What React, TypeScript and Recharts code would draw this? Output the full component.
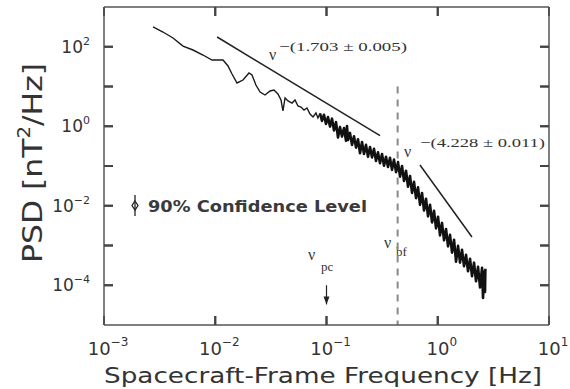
import React from "react";
import { LineChart, Line, XAxis, YAxis } from "recharts";

// spectrum: [frequency Hz, PSD nT^2/Hz]
const spectrumLow: [number, number][] = [
  [0.00276, 314], [0.00339, 235], [0.00417, 166], [0.00513, 104], [0.00631, 82.8],
  [0.00776, 62.0], [0.00935, 46.4], [0.01174, 46.4], [0.01302, 32.8], [0.01415, 20.6],
  [0.01569, 12.25], [0.01776, 14.57], [0.0201, 21.9], [0.0214, 19.5], [0.0232, 10.9],
  [0.0253, 7.27], [0.028, 6.11], [0.0311, 7.7], [0.0337, 8.16], [0.0366, 6.48],
  [0.039, 4.57], [0.0406, 2.42], [0.0424, 5.14], [0.0451, 4.32], [0.049, 3.84],
  [0.0521, 4.57], [0.0554, 3.23], [0.059, 3.05], [0.0628, 2.56], [0.0668, 2.88],
  [0.0711, 2.03], [0.0756, 1.71], [0.0804, 2.15], [0.0838, 1.61], [0.0874, 2.1],
];

// the noisy part, drawn as a thick band
const spectrumHigh: [number, number][] = [
  [0.0874, 2.1], [0.0911, 1.36], [0.0949, 1.95], [0.099, 1.14], [0.1031, 1.71],
  [0.1075, 0.98], [0.1121, 1.55], [0.1168, 0.78], [0.1217, 1.28], [0.1269, 0.52],
  [0.1322, 0.95], [0.1378, 0.55], [0.1436, 0.9], [0.1497, 0.43], [0.1528, 1.015],
  [0.156, 0.45], [0.1626, 0.68], [0.1695, 0.34], [0.1767, 0.56], [0.1842, 0.29],
  [0.1919, 0.47], [0.2001, 0.21], [0.2085, 0.4], [0.2173, 0.2], [0.2265, 0.34],
  [0.2361, 0.17], [0.2461, 0.3], [0.2565, 0.165], [0.2673, 0.27], [0.2786, 0.134],
  [0.2904, 0.22], [0.3027, 0.118], [0.3155, 0.2], [0.3288, 0.102], [0.3427, 0.17],
  [0.3572, 0.095], [0.3723, 0.16], [0.388, 0.08], [0.4044, 0.145], [0.4215, 0.07],
  [0.4394, 0.125], [0.4579, 0.054], [0.4773, 0.1], [0.4975, 0.042], [0.5185, 0.076],
  [0.5404, 0.03], [0.5633, 0.056], [0.5871, 0.021], [0.6119, 0.04], [0.6378, 0.0155],
  [0.6647, 0.029], [0.6928, 0.0105], [0.7221, 0.021], [0.7526, 0.0076], [0.7844, 0.015],
  [0.8176, 0.0054], [0.8522, 0.0106], [0.8882, 0.0038], [0.9257, 0.0075], [0.9649, 0.0027],
  [1.006, 0.0053], [1.048, 0.0018], [1.092, 0.0037], [1.139, 0.00135], [1.187, 0.0026],
  [1.237, 0.00095], [1.289, 0.00185], [1.344, 0.00066], [1.401, 0.0014], [1.46, 0.00039],
  [1.522, 0.00098], [1.586, 0.00037], [1.653, 0.00078], [1.723, 0.0003], [1.796, 0.00058],
  [1.871, 0.000225], [1.951, 0.00046], [2.033, 0.000168], [2.119, 0.00037], [2.209, 0.000126],
  [2.302, 0.00029], [2.399, 0.000088], [2.501, 0.000275], [2.553, 0.0000478], [2.606, 0.00022],
  [2.66, 0.000068], [2.68, 0.00026],
];

// power-law fits (end points)
const fitInertial: [number, number][] = [[0.0104, 176], [0.303, 0.58]];
const fitDissipation: [number, number][] = [[0.692, 0.106], [2.03, 0.00164]];

// break frequency (dashed) and proton cyclotron arrow
const breakLine: [number, number][] = [[0.436, 10], [0.436, 0.00001]];
const pcArrow: [number, number][] = [[0.1, 0.0001], [0.1, 0.000033]];

const X_DOMAIN: [number, number] = [0.001, 10];
const Y_DOMAIN: [number, number] = [0.00001, 1000];
const X_TICKS = [0.001, 0.01, 0.1, 1, 10];
const Y_TICKS = [0.0001, 0.001, 0.01, 0.1, 1, 10, 100];

const toRows = (pts: [number, number][]) => pts.map(([f, psd]) => ({ f, psd }));

const AXIS = "#444";
const INK = "#333";
const SANS = "'DejaVu Sans', sans-serif";
const SERIF = "'Liberation Serif', serif";
const TICK_LEN = 9;

const exponent = (v: number) => {
  const e = Math.round(Math.log10(v));
  return e < 0 ? `\u2212${-e}` : `${e}`;
};

// each tick draws its own inward mark plus the label outside
const BottomTick = (p: any) => {
  const v = p.payload.value;
  const inner = v > X_DOMAIN[0] && v < X_DOMAIN[1];
  return (
    <g>
      {inner && <path d={`M${p.x},${p.y} v${-TICK_LEN}`} stroke={AXIS} strokeWidth={2} fill="none" />}
      <text x={p.x + 4} y={p.y + 30} textAnchor="middle" fontFamily={SANS} fontSize={18} fill={INK} stroke="none">
        10<tspan dy={-9} fontSize={12}>{exponent(v)}</tspan>
      </text>
    </g>
  );
};

const TopTick = (p: any) => {
  const v = p.payload.value;
  if (!(v > X_DOMAIN[0] && v < X_DOMAIN[1])) return <g />;
  return <path d={`M${p.x},${p.y} v${TICK_LEN}`} stroke={AXIS} strokeWidth={2} fill="none" />;
};

const LeftTick = (p: any) => {
  const e = Math.round(Math.log10(p.payload.value));
  return (
    <g>
      <path d={`M${p.x},${p.y} h${TICK_LEN}`} stroke={AXIS} strokeWidth={2} fill="none" />
      {e % 2 === 0 && (
        <text x={p.x - 14} y={p.y + 6} textAnchor="end" fontFamily={SANS} fontSize={17} fill={INK} stroke="none">
          10<tspan dy={-8} fontSize={11}>{exponent(p.payload.value)}</tspan>
        </text>
      )}
    </g>
  );
};

const RightTick = (p: any) => (
  <path d={`M${p.x},${p.y} h${-TICK_LEN}`} stroke={AXIS} strokeWidth={2} fill="none" />
);

const ArrowHead = (props: any) => {
  const { cx, cy, index } = props;
  if (index !== 1) return <g key={`a${index}`} />;
  return <path key="head" d={`M${cx - 3},${cy - 8} L${cx + 3},${cy - 8} L${cx},${cy} Z`} fill="#222" />;
};

const frame = { stroke: "#555", strokeWidth: 1.5 };
const tickLineStyle = { stroke: AXIS, strokeWidth: 2 };

export default function App() {
  return (
    <div style={{ position: "absolute", left: 0, top: 0, width: 570, height: 389, background: "#fff" }}>
      <LineChart width={570} height={389} margin={{ top: 6, right: 20, bottom: 24, left: 14 }}>
        <XAxis
          dataKey="f"
          type="number"
          scale="log"
          domain={X_DOMAIN}
          allowDataOverflow
          ticks={X_TICKS}
          height={40}
          tickSize={-TICK_LEN}
          tickMargin={TICK_LEN}
          tickLine={tickLineStyle}
          axisLine={frame}
          tick={<BottomTick />}
        />
        <XAxis
          xAxisId="top"
          orientation="top"
          dataKey="f"
          type="number"
          scale="log"
          domain={X_DOMAIN}
          allowDataOverflow
          ticks={X_TICKS}
          height={1}
          tickSize={-TICK_LEN}
          tickMargin={TICK_LEN}
          tickLine={tickLineStyle}
          axisLine={frame}
          tick={<TopTick />}
        />
        <YAxis
          type="number"
          scale="log"
          domain={Y_DOMAIN}
          allowDataOverflow
          ticks={Y_TICKS}
          width={90}
          tickSize={-TICK_LEN}
          tickMargin={TICK_LEN}
          tickLine={tickLineStyle}
          axisLine={frame}
          tick={<LeftTick />}
        />
        <YAxis
          yAxisId="right"
          orientation="right"
          type="number"
          scale="log"
          domain={Y_DOMAIN}
          allowDataOverflow
          ticks={Y_TICKS}
          width={1}
          tickSize={-TICK_LEN}
          tickMargin={TICK_LEN}
          tickLine={tickLineStyle}
          axisLine={frame}
          tick={<RightTick />}
        />

        <Line data={toRows(breakLine)} dataKey="psd" stroke="#8a8a8a" strokeWidth={2} strokeDasharray="7 6" dot={false} isAnimationActive={false} />
        <Line data={toRows(spectrumLow)} dataKey="psd" stroke="#1a1a1a" strokeWidth={1.4} dot={false} isAnimationActive={false} />
        <Line data={toRows(spectrumHigh)} dataKey="psd" stroke="#111" strokeWidth={2.6} strokeLinejoin="round" dot={false} isAnimationActive={false} />
        <Line data={toRows(fitInertial)} dataKey="psd" stroke="#222" strokeWidth={1.5} dot={false} isAnimationActive={false} />
        <Line data={toRows(fitDissipation)} dataKey="psd" stroke="#222" strokeWidth={1.5} dot={false} isAnimationActive={false} />
        <Line data={toRows(pcArrow)} dataKey="psd" stroke="#222" strokeWidth={1.2} dot={ArrowHead} isAnimationActive={false} />

        {/* annotations */}
        <g fontFamily={SERIF} fill={INK}>
          <text x={269} y={60} fontSize={16}>ν</text>
          <text x={279} y={51} fontSize={13} textLength={128} lengthAdjust="spacingAndGlyphs">−(1.703 ± 0.005)</text>
          <text x={404} y={157} fontSize={16}>ν</text>
          <text x={420} y={147} fontSize={13} textLength={125} lengthAdjust="spacingAndGlyphs">−(4.228 ± 0.011)</text>
          <text x={308} y={260} fontSize={16}>ν</text>
          <text x={321} y={271} fontSize={13}>pc</text>
          <text x={384} y={248} fontSize={16}>ν</text>
          <text x={396} y={256} fontSize={13}>bf</text>
        </g>
        <g>
          <line x1={135} x2={135} y1={195} y2={216} stroke="#222" strokeWidth={1.3} />
          <path d="M135,201 L138,205.5 L135,210 L132,205.5 Z" fill="none" stroke="#222" strokeWidth={1.3} />
          <text x={148} y={212} fontFamily={SANS} fontSize={16} fontWeight="bold" fill="#3a3a3a" textLength={219} lengthAdjust="spacingAndGlyphs">
            90% Confidence Level
          </text>
        </g>
        <text x={323} y={383} textAnchor="middle" fontFamily={SANS} fontSize={22} fill={INK} textLength={438} lengthAdjust="spacingAndGlyphs">
          Spacecraft-Frame Frequency [Hz]
        </text>
        <text transform="translate(42,163) rotate(-90)" textAnchor="middle" fontFamily={SANS} fontSize={27} fill={INK} textLength={200} lengthAdjust="spacingAndGlyphs">
          PSD [nT<tspan dy={-12} fontSize={17}>2</tspan><tspan dy={12}>/Hz]</tspan>
        </text>
      </LineChart>
    </div>
  );
}
